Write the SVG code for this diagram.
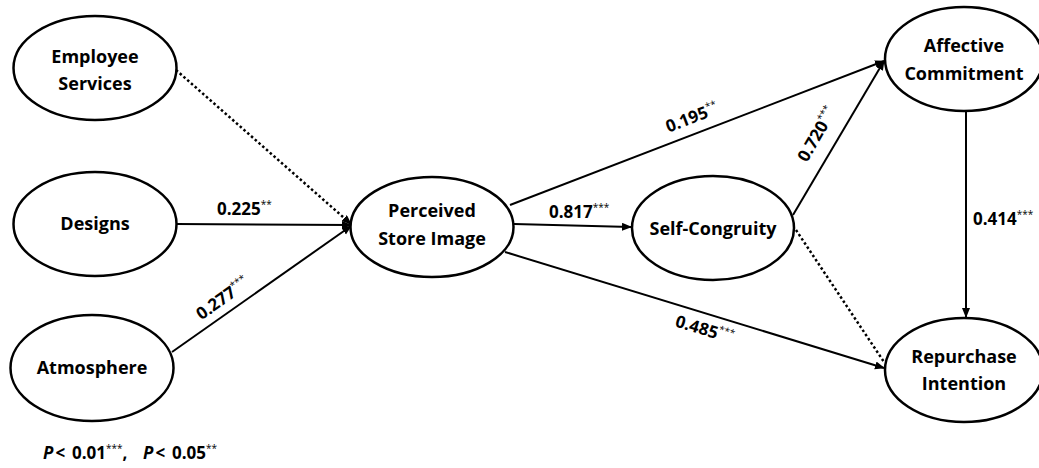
<svg xmlns="http://www.w3.org/2000/svg" width="1039" height="468" viewBox="0 0 1039 468">
<style>
.node ellipse{fill:#fff;stroke:#000;stroke-width:2.5}
.node text{font-family:"Open Sans","Noto Sans",sans-serif;font-weight:700;font-size:18px;text-anchor:middle;fill:#000}
.lbl{font-family:"Open Sans","Noto Sans",sans-serif;font-weight:700;font-size:17px;fill:#000}
.sup{font-size:10px;font-weight:400}
.edge{stroke:#000;stroke-width:2;fill:none}
.dot{stroke-dasharray:2.5 2.5;stroke-width:2.5}
</style>
<defs>
<marker id="ah" markerUnits="userSpaceOnUse" markerWidth="10" markerHeight="10" refX="9" refY="4" orient="auto">
<path d="M0,0 L10,4 L0,8 z" fill="#000"/>
</marker>
</defs>
<rect width="1039" height="468" fill="#fff"/>
<g id="connectors">
<line class="edge dot" x1="176" y1="70" x2="351" y2="224" marker-end="url(#ah)"/>
<line class="edge" x1="176" y1="224" x2="351" y2="225" marker-end="url(#ah)"/>
<line class="edge" x1="172" y1="352" x2="351" y2="226" marker-end="url(#ah)"/>
<line class="edge" x1="514" y1="224" x2="631" y2="227" marker-end="url(#ah)"/>
<line class="edge" x1="510" y1="205" x2="884" y2="61" marker-end="url(#ah)"/>
<line class="edge" x1="505" y1="252" x2="884" y2="368" marker-end="url(#ah)"/>
<line class="edge" x1="793" y1="215" x2="884" y2="61" marker-end="url(#ah)"/>
<line class="edge dot" x1="796" y1="230" x2="884" y2="362"/>
<line class="edge" x1="966" y1="111" x2="966" y2="317" marker-end="url(#ah)"/>
</g>
<g id="employee-services" class="node"><ellipse cx="95" cy="68" rx="81.5" ry="52"/><text x="95" y="63">Employee</text><text x="95" y="90">Services</text></g>
<g id="designs" class="node"><ellipse cx="95" cy="224" rx="81.5" ry="52"/><text x="95" y="230">Designs</text></g>
<g id="atmosphere" class="node"><ellipse cx="92" cy="368" rx="81.5" ry="53"/><text x="92" y="374">Atmosphere</text></g>
<g id="perceived-store-image" class="node"><ellipse cx="432" cy="227" rx="81.5" ry="50"/><text x="432" y="217">Perceived</text><text x="432" y="245">Store Image</text></g>
<g id="self-congruity" class="node"><ellipse cx="713" cy="228" rx="81" ry="52"/><text x="713" y="235">Self-Congruity</text></g>
<g id="affective-commitment" class="node"><ellipse cx="964" cy="59" rx="79" ry="52"/><text x="964" y="52">Affective</text><text x="964" y="80">Commitment</text></g>
<g id="repurchase-intention" class="node"><ellipse cx="964" cy="370" rx="79" ry="52"/><text x="964" y="363">Repurchase</text><text x="964" y="390">Intention</text></g>
<g id="labels">
<text class="lbl" x="217" y="215">0.225<tspan class="sup" dy="-7">**</tspan></text>
<text class="lbl" text-anchor="middle" transform="translate(226,303) rotate(-35.6)">0.277<tspan class="sup" dy="-7">***</tspan></text>
<text class="lbl" x="549" y="218">0.817<tspan class="sup" dy="-7">***</tspan></text>
<text class="lbl" text-anchor="middle" transform="translate(694,123) rotate(-21)">0.195<tspan class="sup" dy="-7">**</tspan></text>
<text class="lbl" text-anchor="middle" transform="translate(822,137) rotate(-60)">0.720<tspan class="sup" dy="-7">***</tspan></text>
<text class="lbl" text-anchor="middle" transform="translate(703,335) rotate(17)">0.485<tspan class="sup" dy="-7">***</tspan></text>
<text class="lbl" x="973" y="225">0.414<tspan class="sup" dy="-7">***</tspan></text>
<text class="lbl" x="43" y="459"><tspan font-style="italic">P</tspan><tspan dx="2">&lt;</tspan><tspan x="72">0.01</tspan><tspan class="sup" dy="-7">***</tspan><tspan dy="7">,</tspan><tspan x="143" font-style="italic">P</tspan><tspan dx="2">&lt;</tspan><tspan x="172">0.05</tspan><tspan class="sup" dy="-7">**</tspan></text>
</g>
</svg>
